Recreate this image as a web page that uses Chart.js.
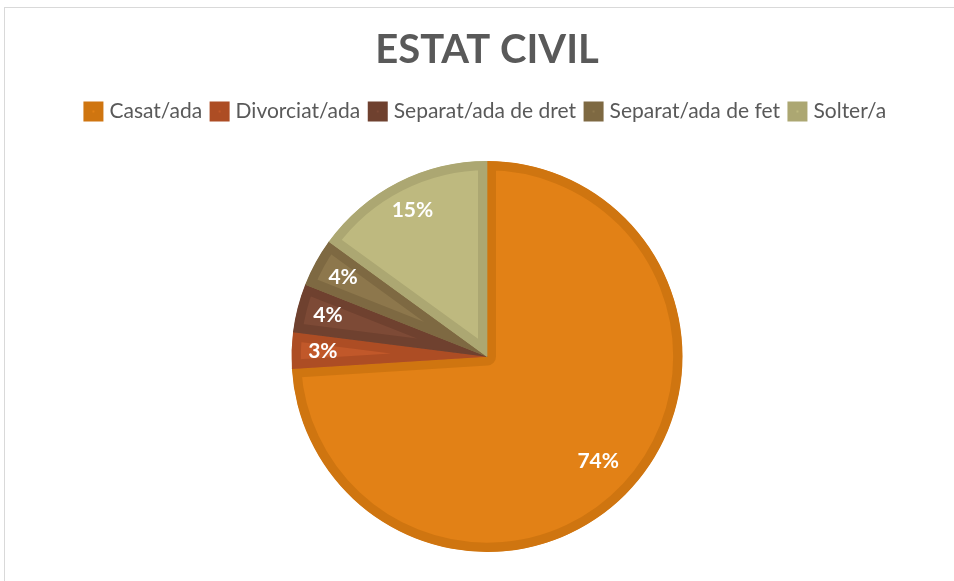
<!DOCTYPE html>
<html>
<head>
  <title>Estat civil</title>
  <script src="https://cdn.jsdelivr.net/npm/chart.js"></script>
  <style>
    html, body { margin: 0; padding: 0; background: #fff; overflow: hidden; }
    #frame { position: absolute; left: 4px; top: 7px; width: 980px; height: 620px; border: 1px solid #d9d9d9; }
    #wrap { position: absolute; left: 0; top: 0; width: 954px; height: 581px; }
  </style>
</head>
<body>
  <div id="frame"></div>
  <div id="wrap"><canvas id="pieChart"></canvas></div>

  <script>
    var labels = ['Casat/ada', 'Divorciat/ada', 'Separat/ada de dret', 'Separat/ada de fet', 'Solter/a'];
    var percents = [74, 3, 4, 4, 15];
    var fillColors = ['#e28116', '#c1582a', '#7d4a36', '#8d774c', '#beb97f'];
    var edgeColors = ['#cf7510', '#ad4d24', '#6f412f', '#7e6942', '#aca772'];

    // white percentage labels near the outer edge of each slice
    var sliceLabels = {
      id: 'sliceLabels',
      afterDatasetsDraw: function(chart) {
        var ctx = chart.ctx;
        var meta = chart.getDatasetMeta(0);
        ctx.save();
        ctx.fillStyle = '#ffffff';
        ctx.font = 'bold 21px Lato';
        ctx.textAlign = 'center';
        ctx.textBaseline = 'middle';
        meta.data.forEach(function(arc, i) {
          var mid = (arc.startAngle + arc.endAngle) / 2;
          var r = arc.outerRadius * (i === 0 ? 0.78 : 0.84);
          ctx.fillText(percents[i] + '%', arc.x + Math.cos(mid) * r, arc.y + Math.sin(mid) * r);
        });
        ctx.restore();
      }
    };

    // more room between legend and pie
    var legendGap = {
      id: 'legendGap',
      beforeInit: function(chart) {
        var fit = chart.legend.fit;
        chart.legend.fit = function() {
          fit.bind(chart.legend)();
          this.height += 29;
        };
      }
    };

    var ctx = document.getElementById('pieChart').getContext('2d');
    var pieChart = new Chart(ctx, {
      type: 'pie',
      data: {
        labels: labels,
        datasets: [{
          data: percents,
          backgroundColor: fillColors,
          borderColor: edgeColors,
          borderWidth: 9,
          borderAlign: 'inner'
        }]
      },
      options: {
        responsive: true,
        maintainAspectRatio: false,
        animation: false,
        layout: { padding: { left: 20, bottom: 29 } },
        plugins: {
          title: {
            display: true,
            text: 'ESTAT CIVIL',
            color: '#595959',
            font: { family: 'Lato', size: 40, weight: 'bold' },
            padding: { top: 26, bottom: 15 }
          },
          legend: {
            position: 'top',
            labels: {
              color: '#595959',
              font: { family: 'Lato', size: 21 },
              boxWidth: 11,
              boxHeight: 11,
              padding: 12
            }
          },
          tooltip: { enabled: false }
        }
      },
      plugins: [sliceLabels, legendGap]
    });
  </script>
</body>
</html>
